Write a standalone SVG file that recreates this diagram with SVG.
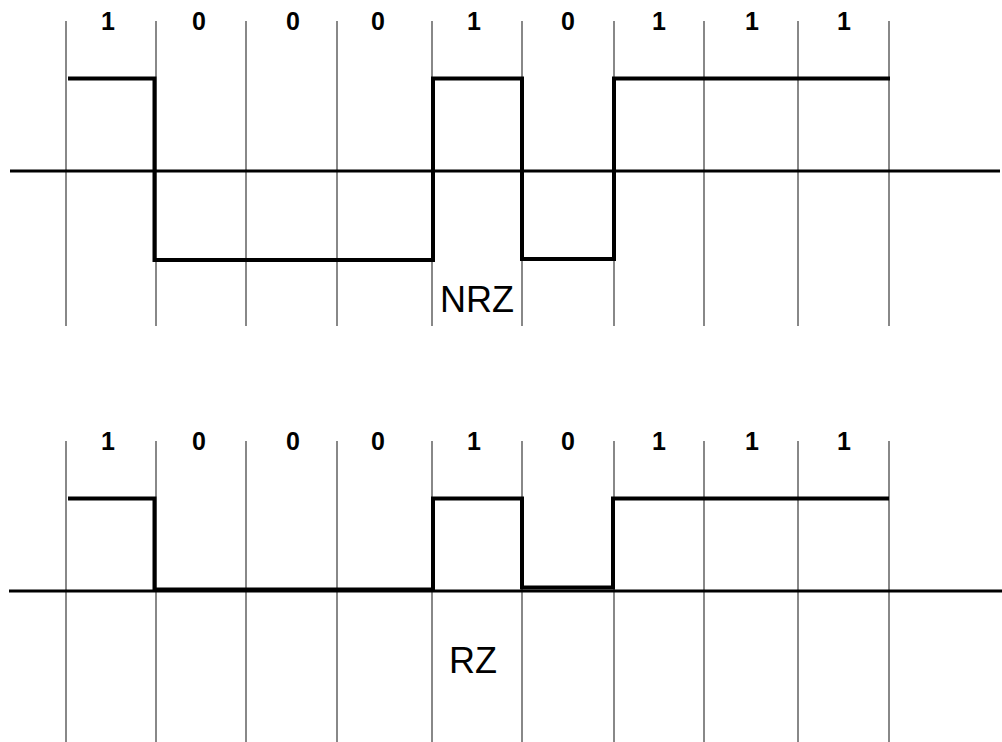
<svg xmlns="http://www.w3.org/2000/svg" width="1002" height="742" viewBox="0 0 1002 742">
<style>
.grid{stroke:#3a3a3a;stroke-width:1.2;fill:none}
.axis{stroke:#000;stroke-width:3;fill:none}
.wave{stroke:#000;stroke-width:4;fill:none;stroke-linejoin:miter;stroke-linecap:butt}
.bit{font-family:'Liberation Sans','Arimo','Helvetica',sans-serif;font-weight:700;font-size:25px;fill:#000;text-anchor:middle}
.lbl{font-family:'Liberation Sans','Arimo','Helvetica',sans-serif;font-size:36px;fill:#000}
</style>
<rect width="1002" height="742" fill="#fff"/>
<g id="nrz">
  <g id="nrz-grid" class="grid">
    <path d="M66,21V326M156,21V326M246,21V326M337,21V326M432,21V326M522,21V326M614,21V326M704,21V326M798,21V326M889,21V326"/>
  </g>
  <g id="nrz-bits" class="bit">
    <text x="108" y="30">1</text>
    <text x="199" y="30">0</text>
    <text x="293" y="30">0</text>
    <text x="378" y="30">0</text>
    <text x="474" y="30">1</text>
    <text x="568" y="30">0</text>
    <text x="659" y="30">1</text>
    <text x="752" y="30">1</text>
    <text x="844" y="30">1</text>
  </g>
  <line id="nrz-axis" class="axis" x1="10" y1="171" x2="1000" y2="171"/>
  <path id="nrz-wave" class="wave" d="M68,78.5H154.5V260H433V78.5H522V259H614V78.5H890"/>
  <text id="nrz-label" class="lbl" x="440" y="312">NRZ</text>
</g>
<g id="rz">
  <g id="rz-grid" class="grid">
    <path d="M66,441V742M156,441V742M246,441V742M337,441V742M432,441V742M522,441V742M614,441V742M704,441V742M798,441V742M889,441V742"/>
  </g>
  <g id="rz-bits" class="bit">
    <text x="108" y="450">1</text>
    <text x="199" y="450">0</text>
    <text x="293" y="450">0</text>
    <text x="378" y="450">0</text>
    <text x="474" y="450">1</text>
    <text x="568" y="450">0</text>
    <text x="659" y="450">1</text>
    <text x="752" y="450">1</text>
    <text x="844" y="450">1</text>
  </g>
  <line id="rz-axis" class="axis" x1="9" y1="591" x2="1002" y2="591"/>
  <path id="rz-wave" class="wave" d="M68,498.5H154.5V590H433V498.5H522V587.5H613V498.5H889"/>
  <line class="wave" x1="154" y1="589.5" x2="433" y2="589.5" stroke-width="5"/>
  <text id="rz-label" class="lbl" x="449" y="673">RZ</text>
</g>
</svg>
